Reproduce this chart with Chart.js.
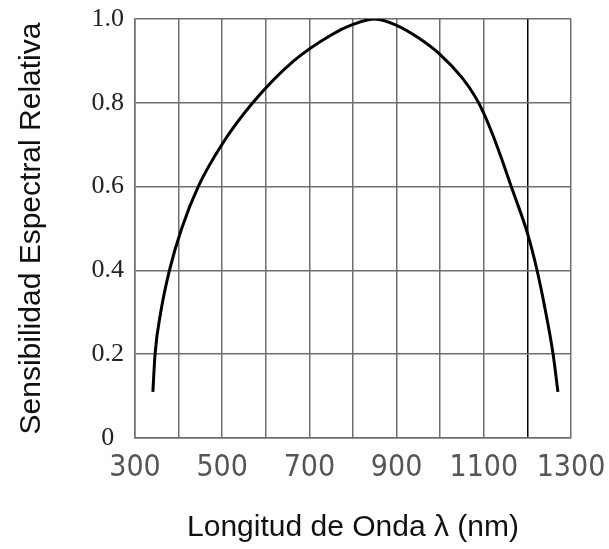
<!DOCTYPE html>
<html>
<head>
<meta charset="utf-8">
<script src="https://cdn.jsdelivr.net/npm/chart.js@4/dist/chart.umd.min.js"></script>
<style>
  html, body { margin: 0; padding: 0; background: #ffffff; }
  #c { display: block; }
</style>
</head>
<body>
<canvas id="c" width="609" height="549"></canvas>
<script>
// Wavelength (nm) of points
const wavelengths = [341, 346, 359, 379, 407, 445, 499, 570, 664, 750, 800, 850, 900, 950, 1000, 1050, 1080, 1100, 1120, 1140, 1164, 1200, 1222, 1240, 1259, 1270];
// Relative spectral sensitivity at those wavelengths
const sensitivity = [0.11, 0.20, 0.30, 0.40, 0.50, 0.60, 0.70, 0.80, 0.90, 0.962, 0.987, 1.0, 0.985, 0.955, 0.915, 0.86, 0.815, 0.775, 0.725, 0.669, 0.597, 0.489, 0.401, 0.311, 0.20, 0.11];
// Axis ticks
const xTickLabels = [300, 500, 700, 900, 1100, 1300];
const yTickLabels = ['0', '0.2', '0.4', '0.6', '0.8', '1.0'];
const xTitle = 'Longitud de Onda λ (nm)';
const yTitle = 'Sensibilidad Espectral Relativa';

const points = wavelengths.map((w, i) => ({ x: w, y: sensitivity[i] }));

new Chart(document.getElementById('c'), {
  type: 'scatter',
  data: {
    datasets: [{
      data: points,
      showLine: true,
      borderColor: '#000000',
      borderWidth: 3,
      pointRadius: 0,
      cubicInterpolationMode: 'monotone',
      fill: false
    }]
  },
  options: {
    responsive: false,
    animation: false,
    events: [],
    layout: { padding: { left: 0, right: 38, top: 19, bottom: 0 } },
    plugins: { legend: { display: false }, tooltip: { enabled: false } },
    scales: {
      x: {
        type: 'linear',
        min: 300, max: 1300,
        afterFit: (s) => { s.height = 111; s.paddingLeft = 0; s.paddingRight = 0; },
        ticks: {
          stepSize: 100,
          autoSkip: false,
          maxRotation: 0,
          padding: 12,
          color: '#555555',
          font: { family: '"Liberation Sans Narrow", "DejaVu Sans Condensed", sans-serif', size: 30, weight: 'normal' },
          callback: (v) => xTickLabels.includes(v) ? String(v) : ''
        },
        grid: {
          drawTicks: false,
          lineWidth: 1.5,
          color: (ctx) => (ctx.tick && ctx.tick.value === 1200) ? '#000000' : '#6e6e6e'
        },
        border: { color: '#6e6e6e', width: 1.5 },
        title: {
          display: true,
          text: xTitle,
          color: '#111111',
          font: { family: '"Liberation Sans", Arial, sans-serif', size: 30 },
          padding: { top: 0, bottom: 3 }
        }
      },
      y: {
        type: 'linear',
        min: 0, max: 1,
        afterFit: (s) => { s.width = 135; s.paddingTop = 0; s.paddingBottom = 0; },
        ticks: {
          stepSize: 0.2,
          padding: 11,
          crossAlign: 'center',
          color: '#222222',
          font: { family: '"Liberation Serif", "DejaVu Serif", serif', size: 26 },
          callback: (v) => yTickLabels[Math.round(v * 5)]
        },
        grid: {
          drawTicks: false,
          lineWidth: 1.5,
          color: '#6e6e6e'
        },
        border: { color: '#6e6e6e', width: 1.5 },
        title: {
          display: true,
          text: yTitle,
          color: '#111111',
          font: { family: '"Liberation Sans", Arial, sans-serif', size: 30 },
          padding: { top: 14, bottom: 0 }
        }
      }
    }
  }
});
</script>
</body>
</html>
